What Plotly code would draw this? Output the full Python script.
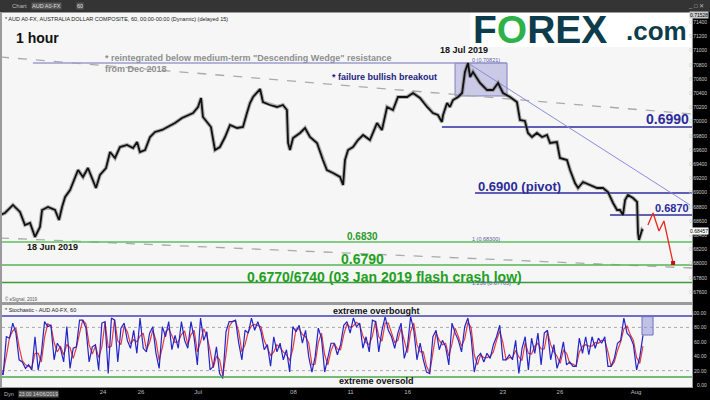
import numpy as np
import plotly.graph_objects as go

W, H = 710, 400
FONT = "Liberation Sans, Arial, sans-serif"

# ---------------- data ----------------
# price path (trading-day index, 0 = Mon 24 Jun 2019), hourly AUD/USD
price_day = [-5.41,-5.15,-4.73,-4.36,-4.10,-3.83,-3.57,-3.31,-3.20,-2.89,-2.52,-2.31,-2.15,-1.99,-1.73,
             -1.47,-1.31,-1.05,-0.79,-0.58,-0.37,-0.16,0.16,0.37,0.63,0.89,1.26,1.58,1.79,1.94,2.21,
             2.47,2.73,3.10,3.41,3.78,4.15,4.46,4.73,4.99,5.15,5.25,5.51,5.67,5.88,6.14,6.41,6.67,
             7.04,7.35,7.56,7.72,7.88,8.25,8.40,8.77,9.14,9.45,9.66,9.72,9.82,9.98,10.35,10.61,10.87,
             11.24,11.55,11.76,12.08,12.45,12.61,12.71,12.87,13.13,13.39,13.66,14.02,14.39,14.65,
             14.92,15.23,15.49,15.97,16.28,16.65,17.02,17.33,17.59,17.80,17.86,18.07,18.22,18.38,
             18.65,18.86,19.01,19.17,19.28,19.43,19.80,20.17,20.48,20.75,21.01,21.38,21.74,21.90,
             22.16,22.32,22.53,22.79,23.06,23.32,23.48,23.84,24.00,24.37,24.53,24.79,24.95,25.21,
             25.58,25.95,26.26,26.52,26.79,27.00,27.15,27.31,27.42,27.57,27.84,28.05,28.10,28.15,
             28.31,28.36]
price_close = [0.68682,0.68710,0.68823,0.68724,0.68541,0.68569,0.68372,0.68513,0.68752,0.68794,0.68752,
               0.68611,0.68794,0.68935,0.69034,0.69217,0.69315,0.69217,0.69344,0.69203,0.69062,0.69245,
               0.69344,0.69569,0.69485,0.69639,0.69668,0.69625,0.69710,0.69569,0.69597,0.69780,0.69851,
               0.69879,0.69921,0.69977,0.70048,0.70090,0.70118,0.70203,0.70330,0.70062,0.69977,0.69921,
               0.69597,0.69639,0.69780,0.69949,0.69907,0.69921,0.70118,0.70259,0.70344,0.70456,0.70273,
               0.70231,0.70203,0.70231,0.70161,0.69696,0.69597,0.69766,0.69837,0.69907,0.69780,0.69696,
               0.69456,0.69315,0.69273,0.69217,0.69104,0.69456,0.69597,0.69639,0.69738,0.69808,0.69738,
               0.69977,0.69879,0.70203,0.70161,0.70344,0.70344,0.70400,0.70330,0.70203,0.70118,0.70090,
               0.69992,0.70090,0.70259,0.70203,0.70301,0.70344,0.70400,0.70696,0.70821,0.70625,0.70696,
               0.70541,0.70442,0.70442,0.70541,0.70400,0.70344,0.70273,0.70020,0.70006,0.69837,0.69780,
               0.69837,0.69780,0.69808,0.69696,0.69710,0.69485,0.69456,0.69315,0.69132,0.69062,0.69146,
               0.69104,0.69062,0.69062,0.69006,0.68851,0.68752,0.68752,0.68682,0.68893,0.68963,0.68921,
               0.68865,0.68428,0.68330,0.68470,0.68457]

# projected path (red)
proj_day = [28.62, 28.89, 29.20, 29.46, 29.94]
proj_price = [0.68541, 0.68710, 0.68456, 0.68597, 0.68006]

# horizontal levels
blue_levels = [0.69921, 0.68992, 0.68682]
blue_start = [17.80, 19.54, 26.63]
green_levels = [0.68300, 0.67977, 0.67730]
wedge_top_level = 0.70821
wedge_top_span = [-3.68, 21.22]
box_day = [18.49, 21.22]
box_price = [0.70358, 0.70821]
trend_day = [19.17, 30.83]
trend_price = [0.70821, 0.68823]
dash_hi_day = [-5.41, 30.93]
dash_hi_price = [0.70907, 0.70104]
dash_lo_day = [-5.41, 30.93]
dash_lo_price = [0.68358, 0.67935]

# stochastic %K / %D, regular sampling from 14 Jun 23:00 to 1 Aug
stoch_k = [21,14,67,65,86,72,35,32,23,28,21,67,21,44,88,81,83,35,58,51,32,81,23,51,53,90,90,79,32,53,
           56,21,86,88,16,93,90,32,79,86,62,51,76,44,93,51,46,72,81,44,23,81,67,88,49,69,51,88,62,51,
           88,65,28,93,62,74,21,26,53,16,9,74,88,88,90,58,35,76,72,93,76,88,74,49,56,26,67,46,58,35,
           49,18,81,74,83,58,76,39,18,39,79,65,18,39,58,58,42,56,83,88,72,93,81,86,51,67,46,90,88,46,
           76,95,76,67,51,72,86,37,53,95,76,35,58,35,18,16,67,76,49,62,53,28,86,72,62,46,81,93,67,18,
           39,44,32,44,37,56,67,83,35,35,42,35,62,16,51,67,21,65,44,72,28,72,76,35,56,23,37,60,28,32,
           26,26,65,44,67,42,67,51,65,58,67,26,26,37,58,62,93,72,67,56,21,39,69]
stoch_d = [24,18,40,66,75,79,53,34,28,26,24,44,44,32,66,85,82,59,46,54,42,56,52,37,52,72,90,85,56,43,
           54,38,53,87,52,54,91,61,56,82,74,57,63,60,68,72,49,59,76,62,34,52,74,78,68,59,60,70,75,56,
           70,76,46,60,78,68,48,24,40,35,13,42,81,88,89,74,46,56,74,82,84,82,81,62,52,41,46,56,52,46,
           42,34,50,78,78,70,67,58,28,29,59,72,42,28,48,58,50,49,70,85,80,82,87,84,68,59,56,68,89,67,
           61,86,86,72,59,62,79,62,45,74,86,56,46,46,26,17,42,72,62,56,58,40,57,79,67,54,64,87,80,42,
           28,42,38,38,40,46,62,75,59,35,38,38,48,39,34,59,44,43,54,58,50,50,74,56,46,40,30,48,44,30,
           29,26,46,54,56,54,54,59,58,62,62,46,26,32,48,60,78,82,70,62,38,30,54]
stoch_first_day, stoch_last_day = -5.41, 28.36
stoch_day = np.linspace(stoch_first_day, stoch_last_day, len(stoch_k))
overbought, oversold = 95.8, 11.1
stoch_box_day = [28.31, 28.89]
stoch_box_val = [69.4, 94.9]

# axis ticks
x_tickvals = [0, 2, 5, 10, 13, 16, 21, 24, 28]
x_ticktext = ["24", "26", "Jul", "08", "11", "16", "23", "26", "Aug"]
price_ticks = [0.676 + 0.002 * i for i in range(20)]
stoch_ticks = [0, 20, 40, 60, 80, 100]
last_price = 0.68457
top_price = 0.71528

X_RANGE = [-5.305, 30.935]
P_RANGE = [0.67456, 0.71527]
S_RANGE = [-2.78, 111.1]

def px(x):
    return x / W

def py(y):
    return 1 - y / H

fig = go.Figure()

# dashed wedge lines
fig.add_trace(go.Scatter(x=dash_hi_day, y=dash_hi_price, mode="lines",
                         line=dict(color="#aaaaaa", width=1.3, dash="dash"), xaxis="x", yaxis="y"))
fig.add_trace(go.Scatter(x=dash_lo_day, y=dash_lo_price, mode="lines",
                         line=dict(color="#aaaaaa", width=1.3, dash="dash"), xaxis="x", yaxis="y"))
# green levels
gcols = ["#5fbf5f", "#55b355", "#3c9a3c"]
for lv, c in zip(green_levels, gcols):
    fig.add_trace(go.Scatter(x=X_RANGE, y=[lv, lv], mode="lines", line=dict(color=c, width=1.5),
                             xaxis="x", yaxis="y"))
# blue levels
for lv, st in zip(blue_levels, blue_start):
    fig.add_trace(go.Scatter(x=[st, X_RANGE[1]], y=[lv, lv], mode="lines",
                             line=dict(color="#2c2c9c", width=1.6), xaxis="x", yaxis="y"))
# top resistance
fig.add_trace(go.Scatter(x=wedge_top_span, y=[wedge_top_level] * 2, mode="lines",
                         line=dict(color="#9c9cd0", width=1.5), xaxis="x", yaxis="y"))
# descending trendline
fig.add_trace(go.Scatter(x=trend_day, y=trend_price, mode="lines",
                         line=dict(color="#8c8cdc", width=1), xaxis="x", yaxis="y"))
# price (wick halo + body line)
fig.add_trace(go.Scatter(x=price_day, y=price_close, mode="lines", opacity=0.55,
                         line=dict(color="#777777", width=4), xaxis="x", yaxis="y"))
fig.add_trace(go.Scatter(x=price_day, y=price_close, mode="lines",
                         line=dict(color="#111111", width=1.8), xaxis="x", yaxis="y"))
# projection
fig.add_trace(go.Scatter(x=proj_day, y=proj_price, mode="lines",
                         line=dict(color="#e8281e", width=1.3), xaxis="x", yaxis="y"))
fig.add_trace(go.Scatter(x=proj_day[-1:], y=proj_price[-1:], mode="markers",
                         marker=dict(color="#c81010", size=4, symbol="square"), xaxis="x", yaxis="y"))

# stochastic
fig.add_trace(go.Scatter(x=stoch_day, y=stoch_d, mode="lines", line=dict(color="#e83a3a", width=1.2),
                         xaxis="x2", yaxis="y2"))
fig.add_trace(go.Scatter(x=stoch_day, y=stoch_k, mode="lines", line=dict(color="#2424c8", width=1.2),
                         xaxis="x2", yaxis="y2"))

shapes = []
# chrome
shapes.append(dict(type="rect", xref="paper", yref="paper", x0=0, x1=1, y0=py(12), y1=1,
                   fillcolor="#343434", line=dict(width=0), layer="below"))
shapes.append(dict(type="rect", xref="paper", yref="paper", x0=px(693), x1=1, y0=0, y1=py(12),
                   fillcolor="#000000", line=dict(width=0), layer="below"))
shapes.append(dict(type="rect", xref="paper", yref="paper", x0=0, x1=1, y0=0, y1=py(388),
                   fillcolor="#000000", line=dict(width=0), layer="below"))
# logo background
shapes.append(dict(type="rect", xref="paper", yref="paper", x0=px(470), x1=px(691), y0=py(47), y1=py(13),
                   fillcolor="#ffffff", line=dict(width=0), layer="above"))
# price box
shapes.append(dict(type="rect", xref="x", yref="y", x0=box_day[0], x1=box_day[1], y0=box_price[0],
                   y1=box_price[1], fillcolor="rgba(120,120,200,0.35)", line=dict(color="#8080c0", width=1),
                   layer="below"))
# stochastic guides
for v in (80, 20):
    shapes.append(dict(type="line", xref="x2", yref="y2", x0=X_RANGE[0], x1=X_RANGE[1], y0=v, y1=v,
                       line=dict(color="#aaaaaa", width=1, dash="dot"), layer="below"))
shapes.append(dict(type="line", xref="x2", yref="y2", x0=X_RANGE[0], x1=X_RANGE[1], y0=overbought,
                   y1=overbought, line=dict(color="#6f6fc8", width=2)))
shapes.append(dict(type="line", xref="x2", yref="y2", x0=X_RANGE[0], x1=X_RANGE[1], y0=oversold,
                   y1=oversold, line=dict(color="#48a848", width=1.5)))
shapes.append(dict(type="rect", xref="x2", yref="y2", x0=stoch_box_day[0], x1=stoch_box_day[1],
                   y0=stoch_box_val[0], y1=stoch_box_val[1], fillcolor="rgba(140,140,215,0.5)",
                   line=dict(color="#7070c0", width=1)))

ann = []

def text(t, x, y, size, color="#111111", bold=False, xanchor="left", yanchor="middle", **kw):
    if bold:
        t = "<b>" + t + "</b>"
    ann.append(dict(text=t, x=px(x), y=py(y), xref="paper", yref="paper", showarrow=False,
                    xanchor=xanchor, yanchor=yanchor, font=dict(family=FONT, size=size, color=color), **kw))

# toolbar
text("Chart", 10, 6, 6, "#bbbbbb")
text("AUD A0-FX", 31, 6, 5.5, "#dddddd", bgcolor="#555555", borderpad=0)
text("60", 76, 6, 5.5, "#dddddd", bgcolor="#555555", borderpad=0)
text("_ □ ✕", 706, 6, 6, "#bbbbbb", xanchor="right")
# headers
text("* AUD A0-FX, AUSTRALIA DOLLAR COMPOSITE, 60, 00:00-00:00 (Dynamic) (delayed 15)", 3, 19, 5.5, "#222222")
text("1 hour", 14, 38, 14, "#111111", bold=True)
text('* reintegrated below medium-term "Descending Wedge" resistance', 103, 58, 9, "#8e8e8e", bold=True)
text("from Dec 2018", 103, 69, 9, "#8e8e8e", bold=True)
text("* failure bullish breakout", 330, 77, 9, "#1c1c80", bold=True)
text("18 Jul 2019", 464, 50, 9, "#111111", bold=True, xanchor="center")
text("0 (0.70821)", 470, 60, 5.5, "#5a5aa0")
text("0.6990", 691, 119, 14, "#2b2b9b", bold=True, xanchor="right")
text("0.6900 (pivot)", 476, 186, 13, "#2b2b9b", bold=True)
text("0.6870", 691, 208, 11, "#2b2b9b", bold=True, xanchor="right")
text("0.6830", 362, 236, 10, "#2a9a2a", bold=True, xanchor="center")
text("1 (0.68300)", 470, 239, 5.5, "#5a5aa0")
text("0.6790", 362, 259, 14, "#22a022", bold=True, xanchor="center")
text("0.6770/6740 (03 Jan 2019 flash crash low)", 245, 277, 14, "#22a022", bold=True)
text("1.236 (0.67705)", 470, 283, 5.5, "#5a5aa0")
text("18 Jun 2019", 52, 247, 9, "#111111", bold=True, xanchor="center")
text("© eSignal, 2019", 3, 299, 4.5, "#555555")
text("* Stochastic - AUD A0-FX, 60", 3, 310, 5.5, "#222222")
text("extreme overbought", 377, 311, 9, "#111111", bold=True, xanchor="center")
text("extreme oversold", 377, 381, 9, "#111111", bold=True, xanchor="center")
# bottom strip
text("Dyn", 2, 394, 5.5, "#bbbbbb")
text("23:00 14/06/2019", 18, 394, 5, "#dddddd", bgcolor="#555555", borderpad=0)
# logo
text("F<span style='color:#2db24a'>O</span>REX", 471, 30, 39, "#0d3c4d", bold=True)
text(".com", 624, 31, 26, "#0d3c4d", bold=True)

# right-axis labels (drawn inside the narrow dark strip)
for v in price_ticks:
    ann.append(dict(text=f"{v:.5f}", x=px(709), y=v, xref="paper", yref="y", showarrow=False,
                    xanchor="right", yanchor="middle", font=dict(family=FONT, size=5, color="#cccccc")))
for v in stoch_ticks:
    ann.append(dict(text=f"{v:.2f}", x=px(709), y=v, xref="paper", yref="y2", showarrow=False,
                    xanchor="right", yanchor="middle", font=dict(family=FONT, size=5, color="#cccccc")))
ann.append(dict(text=f"{last_price:.5f}", x=px(709), y=last_price, xref="paper", yref="y", showarrow=False,
                xanchor="right", yanchor="middle", bgcolor="#ffffff",
                font=dict(family=FONT, size=5, color="#000000"), borderpad=0))
ann.append(dict(text=f"{top_price:.5f}", x=px(709), y=py(15), xref="paper", yref="paper", showarrow=False,
                xanchor="right", yanchor="middle", bgcolor="#cccccc",
                font=dict(family=FONT, size=5, color="#000000"), borderpad=0))

fig.update_layout(
    width=W, height=H, margin=dict(l=0, r=0, t=0, b=0),
    paper_bgcolor="#9a9a9a", plot_bgcolor="#f6f6f6", showlegend=False,
    xaxis=dict(domain=[px(2), px(692)], range=X_RANGE, anchor="y", showticklabels=False,
               showgrid=False, zeroline=False, ticks=""),
    xaxis2=dict(domain=[px(2), px(692)], range=X_RANGE, anchor="y2", matches="x",
                tickvals=x_tickvals, ticktext=x_ticktext, showgrid=False, zeroline=False, ticks="",
                tickfont=dict(family=FONT, size=6, color="#bbbbbb")),
    yaxis=dict(domain=[py(302), py(13)], range=P_RANGE, side="right", anchor="x",
               showticklabels=False, showgrid=False, zeroline=False, ticks=""),
    yaxis2=dict(domain=[py(387), py(305)], range=S_RANGE, side="right", anchor="x2",
                showticklabels=False, showgrid=False, zeroline=False, ticks=""),
    shapes=shapes, annotations=ann,
)

fig.write_html("out.html", config={"displayModeBar": False},
               post_script="document.body.style.margin='0';document.body.style.padding='0';")
